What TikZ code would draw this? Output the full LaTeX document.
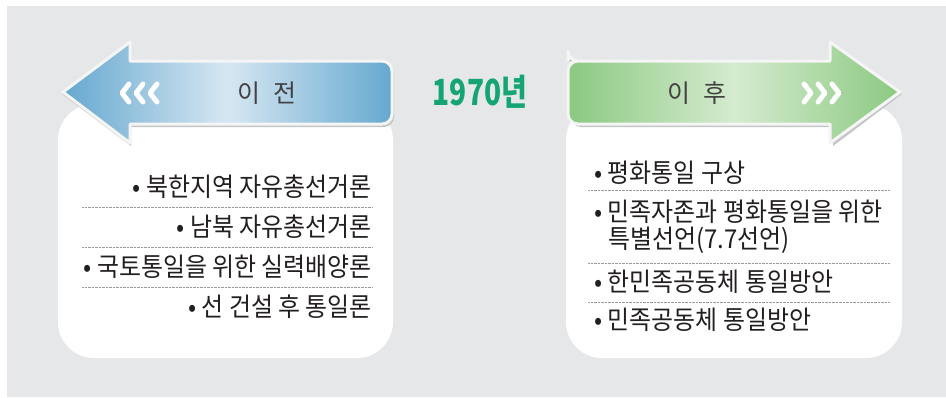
\documentclass[tikz,border=0pt]{standalone}
\usepackage{fontspec}
\newfontfamily\kr[FakeStretch=0.92]{Noto Sans CJK KR}
\newfontfamily\krlabel{Noto Sans CJK KR}
\newfontfamily\titlefont[FakeStretch=0.78]{Noto Sans CJK KR}
\usetikzlibrary{shadings}
\definecolor{bggray}{HTML}{E6E7E9}
\definecolor{blueedge}{HTML}{66A8CF}
\definecolor{bluemid}{HTML}{D6E7F2}
\definecolor{greenedge}{HTML}{8BC981}
\definecolor{greenmid}{HTML}{D5EBCF}
\definecolor{titlegreen}{HTML}{15A574}
\definecolor{txt}{HTML}{231F20}
\definecolor{shadowgray}{HTML}{C4C5C7}
\tikzset{
  panel/.style={fill=white, draw=none},
  item/.style={inner sep=0pt, text=txt, font=\kr\fontsize{26}{30}\selectfont},
  sep/.style={draw=gray!80, line width=0.7pt, dash pattern=on 0.7pt off 0.7pt},
  arrowrim/.style={draw=white!96!black, line width=3pt, line join=round},
  chev/.style={draw=white, line width=5pt, line cap=round, line join=round},
  arrowlabel/.style={inner sep=0pt, text=txt!85, font=\krlabel\fontsize{25}{28}\selectfont}
}
\begin{document}
\begin{tikzpicture}[x=1pt,y=-1pt]
\useasboundingbox (0,0) rectangle (946,397);
\fill[white] (0,0) rectangle (946,397);
\fill[bggray] (7,6) rectangle (946,397);
% panels
\fill[panel, rounded corners=36pt] (58,104) rectangle (393,358);
\fill[panel, rounded corners=36pt] (566,104) rectangle (902,358);
% left arrow
\fill[shadowgray] (62,94) -- (131,44) -- (131,63) [rounded corners=10pt] -- (394,63) -- (394,127) [sharp corners] -- (131,127) -- (131,146) -- cycle;
\draw[arrowrim, left color=blueedge, right color=blueedge, middle color=bluemid]
  (63,92) -- (130,42) -- (130,61) [rounded corners=10pt] -- (392,61) -- (392,124) [sharp corners] -- (130,124) -- (130,143) -- cycle;
\node[arrowlabel] (before) at (267,93) {이\hspace{0.55em}전};
\foreach \cx in {122,136,150}{
  \draw[chev] (\cx+7,84) -- (\cx,93) -- (\cx+7,102);
}
% right arrow
\fill[shadowgray] (571,63) [rounded corners=10pt] -- (833,63) [sharp corners] -- (833,44) -- (902,94) -- (833,146) -- (833,127) [rounded corners=10pt] -- (571,127) -- cycle;
\draw[arrowrim, left color=greenedge, right color=greenedge, middle color=greenmid]
  (568,61) [rounded corners=10pt] -- (568,61) [sharp corners] -- (830,61) -- (830,42) -- (900,92) -- (830,143) -- (830,124) [rounded corners=10pt] -- (568,124) -- (568,61) -- (575,61);
\node[arrowlabel] (after) at (697,93) {이\hspace{0.55em}후};
\foreach \cx in {804,818,832}{
  \draw[chev] (\cx,84) -- (\cx+7,93) -- (\cx,102);
}
% title
\node[inner sep=0pt, text=titlegreen, font=\titlefont\bfseries\fontsize{36}{40}\selectfont] (year) at (480,92) {1970년};
% left items
\node[item, anchor=east] (l1) at (372,187) {• 북한지역 자유총선거론};
\node[item, anchor=east] (l2) at (372,227) {• 남북 자유총선거론};
\node[item, anchor=east] (l3) at (372,267) {• 국토통일을 위한 실력배양론};
\node[item, anchor=east] (l4) at (372,307) {• 선 건설 후 통일론};
\draw[sep] (82,207) -- (372,207);
\draw[sep] (82,247) -- (372,247);
\draw[sep] (82,287) -- (372,287);
% right items
\node[item, anchor=west] (r1) at (594,173) {• 평화통일 구상};
\node[item, anchor=west] (r2) at (594,212) {• 민족자존과 평화통일을 위한};
\node[item, anchor=west] (r2b) at (608,240) {특별선언(7.7선언)};
\node[item, anchor=west] (r3) at (594,282) {• 한민족공동체 통일방안};
\node[item, anchor=west] (r4) at (594,320) {• 민족공동체 통일방안};
\draw[sep] (588,190) -- (890,190);
\draw[sep] (588,263) -- (890,263);
\draw[sep] (588,302) -- (890,302);
\end{tikzpicture}
\end{document}
